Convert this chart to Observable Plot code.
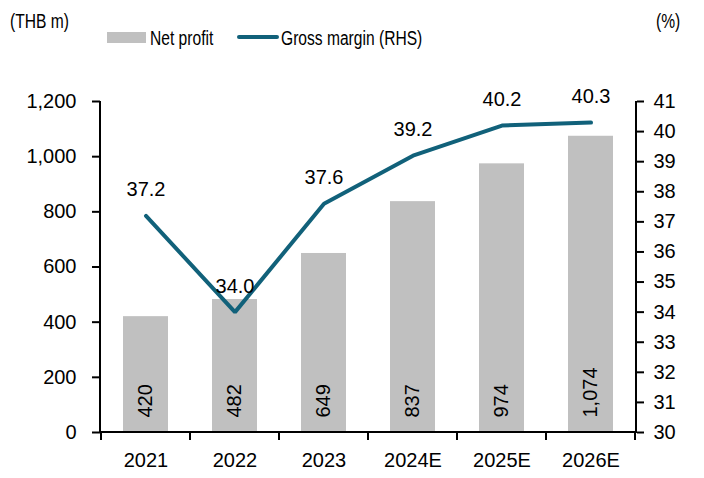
<!DOCTYPE html>
<html>
<head>
<meta charset="utf-8">
<script src="https://cdn.jsdelivr.net/npm/d3@7"></script>
<script src="https://cdn.jsdelivr.net/npm/@observablehq/plot@0.6"></script>
<style>
  html, body { margin: 0; padding: 0; background: #fff; }
  #wrap { position: relative; width: 704px; height: 478px; font-family: "Liberation Sans", Arial, sans-serif; }
  .narrow { position: absolute; font-family: "Liberation Sans", Arial, sans-serif; font-size: 19.5px; color: #000; line-height: 1; white-space: nowrap; transform: scaleX(0.8); transform-origin: 0 0; }
  .sw { position: absolute; }
</style>
</head>
<body>
<div id="wrap"></div>
<script>
const years = ["2021", "2022", "2023", "2024E", "2025E", "2026E"];
const netProfit = [420, 482, 649, 837, 974, 1074];
const grossMargin = [37.2, 34.0, 37.6, 39.2, 40.2, 40.3];
const leftTicks = [0, 200, 400, 600, 800, 1000, 1200];
const rightTicks = [30, 31, 32, 33, 34, 35, 36, 37, 38, 39, 40, 41];

const barColor = "#c0c0c0";
const lineColor = "#11617a";
const leftMax = 1200, rMin = 30, rMax = 41;
const toLeft = v => (v - rMin) / (rMax - rMin) * leftMax;
const fromLeft = v => v / leftMax * (rMax - rMin) + rMin;

const data = years.map((y, i) => ({year: y, np: netProfit[i], gm: grossMargin[i], gmY: toLeft(grossMargin[i])}));

function frameAxes(index, scales, values, dims) {
  const g = d3.create("svg:g");
  const x = scales.x;
  const bw = typeof x.bandwidth === "function" ? x.bandwidth() : (x.bandwidth ?? 0);
  const step = x(years[1]) - x(years[0]);
  const top = dims.marginTop, bottom = dims.height - dims.marginBottom;
  const left = dims.marginLeft, right = dims.width - dims.marginRight;
  const bounds = years.map(d => x(d) - (step - bw) / 2);
  bounds.push(x(years[years.length - 1]) + bw + (step - bw) / 2);
  g.selectAll("line.t").data(bounds).join("line")
    .attr("x1", d => d).attr("x2", d => d)
    .attr("y1", bottom).attr("y2", bottom + 8)
    .attr("stroke", "#000").attr("stroke-width", 2);
  g.append("line").attr("x1", left).attr("x2", left).attr("y1", top).attr("y2", bottom + 1).attr("stroke", "#000").attr("stroke-width", 2);
  g.append("line").attr("x1", right).attr("x2", right).attr("y1", top).attr("y2", bottom + 1).attr("stroke", "#000").attr("stroke-width", 2);
  g.append("line").attr("x1", left).attr("x2", right).attr("y1", bottom).attr("y2", bottom).attr("stroke", "#000").attr("stroke-width", 2);
  return g.node();
}

const chart = Plot.plot({
  width: 704,
  height: 478,
  marginTop: 101,
  marginBottom: 46,
  marginLeft: 100,
  marginRight: 68,
  style: {fontFamily: "'Liberation Sans', Arial, sans-serif", fontSize: "20px", color: "#000", background: "#fff"},
  x: {domain: years, paddingInner: 0.5, paddingOuter: 0.25, label: null},
  y: {domain: [0, leftMax], label: null},
  marks: [
    Plot.barY(data, {x: "year", y: "np", fill: barColor}),
    Plot.text(data, {x: "year", y: 0, text: d => d3.format(",")(d.np), rotate: -90, textAnchor: "start", dy: -15, fill: "#000", fontSize: 20}),
    Plot.line(data, {x: "year", y: "gmY", stroke: lineColor, strokeWidth: 4, strokeLinecap: "round", strokeLinejoin: "miter"}),
    Plot.text(data, {x: "year", y: "gmY", text: d => d.gm.toFixed(1), dy: -26, fill: "#000", fontSize: 20}),
    Plot.axisY({anchor: "left", ticks: leftTicks, tickFormat: d3.format(","), tickSize: 8, tickPadding: 16, strokeWidth: 2, label: null, fontSize: 20}),
    Plot.axisY({anchor: "right", ticks: rightTicks.map(toLeft), tickFormat: v => String(Math.round(fromLeft(v))), tickSize: 7, tickPadding: 10, strokeWidth: 2, label: null, fontSize: 20}),
    Plot.axisX({anchor: "bottom", tickSize: 0, tickPadding: 20, label: null, fontSize: 20}),
    frameAxes
  ]
});

const wrap = document.getElementById("wrap");
wrap.appendChild(chart);

function addText(txt, left, top) {
  const el = document.createElement("div");
  el.className = "narrow";
  el.textContent = txt;
  el.style.left = left + "px";
  el.style.top = top + "px";
  wrap.appendChild(el);
}
function addSwatch(left, top, w, h, color, radius) {
  const el = document.createElement("div");
  el.className = "sw";
  el.style.left = left + "px"; el.style.top = top + "px";
  el.style.width = w + "px"; el.style.height = h + "px";
  el.style.background = color;
  if (radius) el.style.borderRadius = radius + "px";
  wrap.appendChild(el);
}
addText("(THB m)", 10, 12);
addText("(%)", 656, 12);
addSwatch(107, 32, 39, 11, barColor);
addText("Net profit", 150, 29);
addSwatch(237, 35, 42, 4, lineColor, 2);
addText("Gross margin (RHS)", 281, 29);
</script>
</body>
</html>
